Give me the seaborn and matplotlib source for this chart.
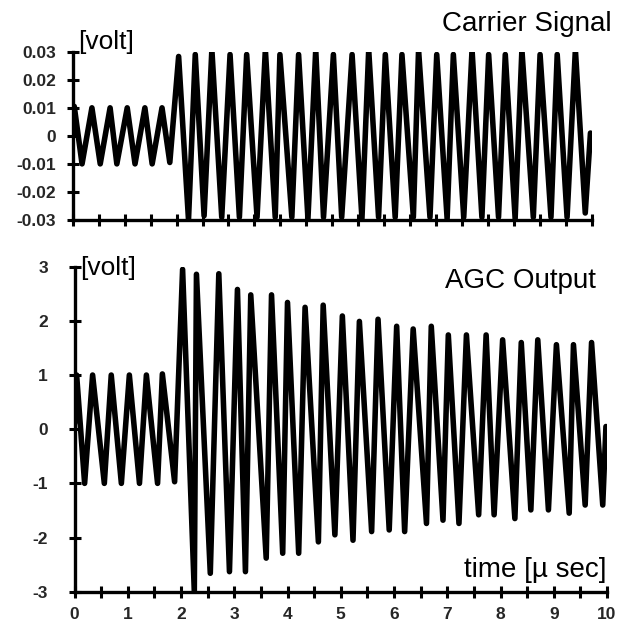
import numpy as np
import pandas as pd
import matplotlib
matplotlib.use("Agg")
import matplotlib.pyplot as plt
import seaborn as sns

# ---------------- data ----------------
# Carrier signal: extremes (time in usec, value in volt)
carrier_t = [0.00, 0.03, 0.18, 0.37, 0.53, 0.72, 0.85, 1.05, 1.20, 1.39, 1.53, 1.72, 1.87,
             2.04, 2.23, 2.36, 2.53, 2.68, 2.87, 3.03, 3.21, 3.35, 3.55, 3.71, 3.90,
             3.99, 4.22, 4.35, 4.53, 4.68, 4.83, 5.02, 5.18, 5.38, 5.57, 5.70, 5.89,
             6.02, 6.21, 6.34, 6.56, 6.66, 6.88, 7.01, 7.21, 7.33, 7.53, 7.69, 7.88,
             8.01, 8.20, 8.33, 8.52, 8.65, 8.87, 9.00, 9.21, 9.33, 9.52, 9.68, 9.87, 9.97]
carrier_v = [0.000, 0.0105, -0.010, 0.010, -0.010, 0.010, -0.010, 0.010, -0.010, 0.010, -0.010, 0.010, -0.0095,
             0.0283, -0.0300, 0.0290, -0.0285, 0.0307, -0.0290, 0.0290, -0.0290, 0.0290, -0.0290, 0.0307, -0.0290,
             0.0290, -0.0290, 0.0290, -0.0295, 0.0307, -0.0290, 0.0290, -0.0290, 0.0290, -0.0295, 0.0307, -0.0290,
             0.0290, -0.0290, 0.0290, -0.0290, 0.0307, -0.0290, 0.0290, -0.0295, 0.0290, -0.0290, 0.0307, -0.0290,
             0.0290, -0.0290, 0.0290, -0.0295, 0.0307, -0.0290, 0.0290, -0.0290, 0.0290, -0.0290, 0.0307, -0.0275, 0.001]

# AGC output: extremes (time in usec, value in volt)
agc_t = [0.00, 0.04, 0.19, 0.34, 0.56, 0.69, 0.88, 1.03, 1.22, 1.35, 1.56, 1.65, 1.88,
         2.03, 2.25, 2.29, 2.55, 2.71, 2.91, 3.06, 3.21, 3.31, 3.60, 3.70, 3.91,
         4.00, 4.21, 4.33, 4.58, 4.67, 4.89, 5.03, 5.23, 5.35, 5.58, 5.70, 5.91,
         6.05, 6.20, 6.36, 6.61, 6.70, 6.92, 7.02, 7.22, 7.36, 7.59, 7.73, 7.88,
         8.04, 8.27, 8.39, 8.57, 8.70, 8.90, 9.05, 9.29, 9.37, 9.59, 9.71, 9.92, 9.98]
agc_v = [0.10, 1.00, -1.00, 1.00, -1.00, 1.00, -1.00, 1.00, -1.00, 1.00, -1.00, 1.02, -0.97,
         2.95, -3.00, 2.86, -2.66, 2.87, -2.63, 2.58, -2.63, 2.48, -2.38, 2.48, -2.29,
         2.34, -2.29, 2.25, -2.08, 2.29, -1.95, 2.09, -2.05, 1.99, -1.89, 2.03, -1.86,
         1.90, -1.89, 1.85, -1.74, 1.90, -1.68, 1.74, -1.74, 1.74, -1.58, 1.74, -1.58,
         1.65, -1.65, 1.60, -1.49, 1.65, -1.49, 1.56, -1.55, 1.56, -1.40, 1.60, -1.40, 0.05]

top_yticks = [0.03, 0.02, 0.01, 0.0, -0.01, -0.02, -0.03]
top_ylabels = ["0.03", "0.02", "0.01", "0", "-0.01", "-0.02", "-0.03"]
bot_yticks = [3, 2, 1, 0, -1, -2, -3]
bot_ylabels = ["3", "2", "1", "0", "-1", "-2", "-3"]
xticks_major = [0, 1, 2, 3, 4, 5, 6, 7, 8, 9, 10]
xlabels = ["0", "1", "2", "3", "4", "5", "6", "7", "8", "9", "10"]
xticks_minor = [0.5, 1.5, 2.5, 3.5, 4.5, 5.5, 6.5, 7.5, 8.5, 9.5]

# ---------------- style ----------------
sns.set_style("white")
plt.rcParams["font.family"] = ["Liberation Sans", "DejaVu Sans"]
plt.rcParams["axes.unicode_minus"] = False

W, H = 623, 627
fig = plt.figure(figsize=(W / 100, H / 100), dpi=100)

def px_axes(x0, x1, ytop, ybot):
    return fig.add_axes([x0 / W, 1 - ybot / H, (x1 - x0) / W, (ybot - ytop) / H])

ax1 = px_axes(72.7, 592, 51.7, 220)
ax2 = px_axes(74.5, 607, 266.7, 591.7)

df1 = pd.DataFrame({"t": carrier_t, "v": carrier_v})
df2 = pd.DataFrame({"t": agc_t, "v": agc_v})

lw = 4.0
sns.lineplot(data=df1, x="t", y="v", ax=ax1, color="black", lw=lw,
             estimator=None, sort=False, solid_joinstyle="round", solid_capstyle="round")
sns.lineplot(data=df2, x="t", y="v", ax=ax2, color="black", lw=lw,
             estimator=None, sort=False, solid_joinstyle="round", solid_capstyle="round")

for ax, yt, yl, ylim, pad in [(ax1, top_yticks, top_ylabels, (-0.03, 0.03), 8),
                              (ax2, bot_yticks, bot_ylabels, (-3, 3), 15)]:
    ax.set_xlim(0, 10)
    ax.set_ylim(*ylim)
    ax.set_xlabel("")
    ax.set_ylabel("")
    ax.set_facecolor("white")
    for s in ["top", "right"]:
        ax.spines[s].set_visible(False)
    for s in ["left", "bottom"]:
        ax.spines[s].set_linewidth(2.4)
        ax.spines[s].set_color("black")
    ax.set_yticks(yt)
    ax.set_yticklabels(yl, fontsize=12.5, fontweight="bold")
    ax.set_xticks(xticks_major)
    ax.set_xticks(xticks_minor, minor=True)
    ax.tick_params(axis="both", which="both", direction="inout", length=8, width=2.2,
                   color="black", left=True, bottom=True)
    ax.tick_params(axis="y", pad=pad)
    ax.grid(False)

ax1.set_xticklabels([])
ax2.set_xticklabels(xlabels, fontsize=12.5, fontweight="bold")
ax2.tick_params(axis="x", pad=7)

# ---------------- texts ----------------
def ftext(x, y, s, **kw):
    fig.text(x / W, 1 - y / H, s, color="black", **kw)

ftext(78, 30, "[volt]", fontsize=19, ha="left", va="top")
ftext(612, 11, "Carrier Signal", fontsize=20, ha="right", va="top")
ftext(80, 256, "[volt]", fontsize=19, ha="left", va="top")
ftext(596, 268, "AGC Output", fontsize=20, ha="right", va="top")
ftext(607, 557, "time [\u00b5 sec]", fontsize=20, ha="right", va="top")

fig.savefig("out.png", dpi=100, facecolor="white")
